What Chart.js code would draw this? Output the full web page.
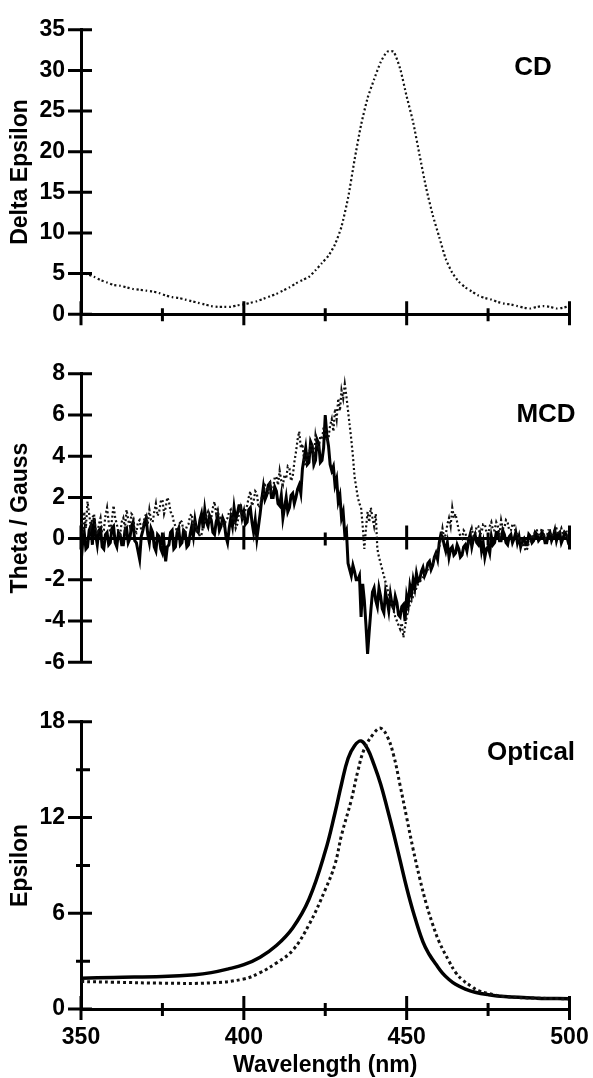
<!DOCTYPE html>
<html>
<head>
<meta charset="utf-8">
<script src="https://cdn.jsdelivr.net/npm/chart.js@4/dist/chart.umd.min.js"></script>
<style>
  body { margin: 0; background: #fff; }
  .panel { position: absolute; left: 0; }
</style>
</head>
<body>
<div class="panel" style="top:0px"><canvas id="cdChart" width="593" height="344"></canvas></div>
<div class="panel" style="top:344px"><canvas id="mcdChart" width="593" height="348"></canvas></div>
<div class="panel" style="top:692px"><canvas id="optChart" width="593" height="386"></canvas></div>
<script>
// Spectra of the complex: CD, MCD and optical absorption

// wavelength grids (nm)
const range = (a, b, s) => { const r = []; for (let v = a; v <= b; v += s) r.push(v); return r; };
const cdWavelengths = range(350, 500, 2);
const mcdWavelengths = range(350, 500, 0.5);

// CD, delta epsilon (dotted trace)
const cdValues = [
  5.2, 4.9, 4.6, 4.2, 3.9, 3.6, 3.5, 3.3, 3.1, 3.0,
  2.9, 2.8, 2.6, 2.3, 2.1, 2.0, 1.8, 1.6, 1.4, 1.2,
  1.0, 0.9, 0.9, 0.9, 1.1, 1.2, 1.4, 1.6, 1.9, 2.2,
  2.5, 2.9, 3.3, 3.8, 4.2, 4.6, 5.4, 6.3, 7.2, 8.6,
  10.8, 14.3, 19.0, 23.3, 26.6, 28.9, 31.0, 32.3, 32.3, 30.2,
  26.8, 23.6, 19.5, 15.5, 12.2, 9.5, 6.8, 5.1, 4.0, 3.3,
  2.8, 2.3, 2.0, 1.8, 1.5, 1.3, 1.2, 1.0, 0.8, 0.7,
  0.9, 1.0, 0.9, 0.7, 0.8, 1.0
];

// MCD, theta / gauss (solid trace), every 0.5 nm, one row = 5 nm
const mcdSolid = [
  -1.2, -0.2, 0.3, -0.5, -0.4, 0.4, 0.6, -0.3, 1.0, 0.2,
  -0.3, 0.4, 0.5, -0.4, -0.5, 0.2, 0.3, -0.3, -0.2, 0.5,
  0.6, -0.2, -0.4, 0.3, 0.2, -0.3, -0.3, 0.4, 0.5, -0.2,
  0.0, 0.6, 0.8, -0.1, -0.2, -0.6, -1.0, 0.1, 0.4, 0.8,
  1.0, 0.2, -0.2, 0.5, 0.3, -0.4, -0.6, 0.2, 0.1, -0.5,
  -0.7, -0.2, -1.1, -0.4, -0.3, 0.3, 0.4, -0.5, -0.4, 0.3,
  0.5, -0.3, -0.2, 0.4, 0.3, -0.4, -0.3, 0.2, 0.6, 0.1,
  0.9, 0.4, 0.3, 0.9, 1.2, 0.5, 1.4, 0.8, 0.6, 1.1,
  0.9, 0.3, 0.2, 0.8, 1.1, 0.4, 0.6, 1.0, 0.8, 0.1,
  -0.2, 0.5, 1.0, 0.6, 1.5, 0.9, 1.2, 1.6, 1.6, 1.0,
  1.3, 0.7, 0.8, 1.4, 1.5, 0.8, 0.3, 0.9, 0.0, 0.6,
  1.2, 1.9, 2.5, 1.9, 2.1, 2.6, 2.7, 2.0, 2.0, 2.5,
  2.3, 1.7, 1.6, 2.1, 1.0, 1.5, 2.0, 1.3, 1.5, 2.1,
  2.2, 1.7, 2.0, 2.4, 2.6, 2.2, 3.4, 3.9, 4.4, 3.6,
  3.7, 4.7, 4.5, 3.6, 3.8, 4.8, 4.6, 3.7, 3.8, 4.4,
  6.0, 5.0, 4.5, 3.6, 3.3, 3.5, 2.6, 2.9, 1.8, 2.1,
  1.0, 1.3, 0.2, 0.4, -1.2, -1.5, -1.8, -1.3, -1.6, -2.0,
  -2.0, -1.8, -3.8, -2.2, -3.0, -4.2, -5.6, -4.5, -3.5, -2.6,
  -2.4, -3.0, -3.3, -2.4, -2.8, -3.4, -3.6, -2.6, -3.0, -3.5,
  -2.7, -3.2, -3.4, -2.8, -3.1, -3.7, -3.8, -3.3, -3.2, -4.0,
  -2.8, -3.2, -2.3, -2.7, -2.0, -2.4, -1.7, -2.1, -2.0, -1.6,
  -1.4, -1.8, -1.6, -1.2, -1.1, -1.5, -1.3, -0.9, -0.7, -1.0,
  -0.2, 0.2, 0.1, -0.3, -0.6, -0.2, -0.9, -0.5, -0.4, -0.8,
  -0.7, -0.3, -0.5, -0.9, -0.8, -0.4, -0.3, -0.6, -0.1, 0.2,
  -0.4, 0.0, 0.2, -0.2, -0.3, 0.1, -0.6, -0.2, -0.9, -0.5,
  -0.4, -0.7, 0.1, -0.3, -0.2, 0.3, 0.3, -0.1, -0.1, 0.4,
  0.2, -0.2, -0.3, 0.1, 0.2, -0.2, 0.0, 0.3, -0.2, 0.1,
  -0.4, -0.1, 0.0, -0.3, -0.3, 0.2, 0.1, -0.2, -0.1, 0.3,
  0.2, -0.1, 0.0, 0.3, 0.2, -0.2, -0.2, 0.2, 0.3, -0.1,
  0.1, 0.4, -0.1, 0.2, 0.3, -0.2, 0.0, 0.3, 0.2, -0.1,
  0.1
];

// MCD, theta / gauss (dotted trace), every 0.5 nm, one row = 5 nm
const mcdDotted = [
  0.8, 0.2, 1.3, 0.5, 1.8, 1.2, 0.6, 1.0, 1.2, 0.4,
  0.2, 0.7, 1.0, 0.3, 0.4, 1.1, 1.5, 0.8, 0.3, 0.9,
  1.6, 1.0, 0.7, 0.3, 0.2, 0.8, 1.0, 0.5, 1.4, 0.9,
  0.6, 1.2, 1.1, 0.4, 0.3, 0.8, 0.9, 0.4, 0.5, 1.0,
  1.2, 0.7, 1.4, 0.9, 0.8, 1.3, 1.7, 1.1, 1.3, 1.8,
  1.9, 1.2, 1.5, 2.0, 1.8, 1.3, 1.2, 0.8, 0.6, 0.3,
  0.4, 0.9, 0.8, 0.3, 0.3, 0.6, 0.7, 1.1, 1.2, 0.6,
  0.9, 0.4, 0.5, 0.1, 0.2, 0.6, 0.8, 1.1, 1.3, 0.9,
  1.0, 1.5, 1.8, 1.2, 1.4, 0.9, 1.1, 0.6, 0.6, 0.9,
  1.0, 1.3, 1.4, 0.9, 1.1, 0.5, 0.7, 1.2, 1.5, 0.9,
  1.0, 1.4, 1.6, 2.0, 2.3, 1.6, 1.8, 2.3, 2.2, 1.5,
  1.6, 2.0, 2.1, 2.6, 2.5, 2.1, 2.8, 2.3, 2.4, 3.0,
  3.0, 2.6, 3.3, 2.8, 2.6, 3.1, 2.9, 3.5, 3.4, 2.8,
  3.0, 3.7, 4.2, 4.8, 5.2, 4.4, 4.6, 3.8, 3.5, 4.2,
  4.0, 4.6, 4.5, 3.9, 5.0, 4.5, 4.4, 5.0, 4.8, 5.4,
  5.3, 4.7, 4.9, 5.5, 5.8, 5.2, 6.3, 5.8, 6.8, 6.2,
  7.2, 6.8, 7.5, 6.9, 6.2, 5.5, 4.8, 4.0, 3.0, 2.5,
  2.0, 1.7, 1.5, 0.6, -0.5, 0.5, 1.3, 0.8, 1.5, 1.0,
  0.6, 1.2, -0.5, -0.9, -1.2, -1.5, -1.8, -2.1, -2.4, -2.7,
  -3.0, -3.2, -3.5, -3.8, -4.0, -4.2, -4.4, -4.1, -4.8, -4.3,
  -3.8, -3.4, -3.2, -3.0, -2.8, -2.6, -2.4, -2.2, -2.1, -2.0,
  -1.9, -1.7, -1.6, -1.5, -1.4, -1.3, -1.2, -1.0, -0.8, -0.6,
  -0.4, 0.0, 0.5, 0.0, 0.2, 0.7, 1.0, 0.6, 1.5, 1.0,
  1.2, 0.8, 0.4, 0.1, 0.0, 0.4, 0.3, -0.1, -0.2, 0.2,
  0.5, 0.1, 0.2, 0.6, 0.6, 0.2, 0.3, 0.7, 0.7, 0.3,
  0.2, 0.6, 0.8, 0.4, 0.4, 0.8, 0.6, 0.2, 0.9, 0.5,
  0.5, 0.9, 0.8, 0.4, 0.4, 0.7, 0.7, 0.3, 0.2, 0.0,
  0.0, -0.4, -0.3, -0.6, -0.5, -0.2, -0.2, 0.2, 0.1, 0.4,
  0.4, 0.1, 0.2, 0.5, 0.3, 0.0, 0.1, 0.4, 0.4, 0.1,
  0.2, 0.5, 0.5, 0.2, 0.3, 0.5, 0.2, 0.4, 0.4, 0.1,
  0.3
];

// Optical, epsilon
const optSolidWl = [350, 360, 375, 385, 390, 395, 400, 405, 410, 415, 420, 425, 428, 430, 432, 434, 436, 438, 440, 442, 444, 446, 448, 450, 452, 455, 457, 459, 461, 463, 465, 468, 471, 475, 480, 490, 500];
const optSolid = [1.92, 1.98, 2.04, 2.15, 2.28, 2.5, 2.78, 3.25, 3.98, 5.08, 6.88, 9.88, 12.3, 14.1, 15.7, 16.5, 16.8, 16.3, 15.3, 14.1, 12.6, 11.0, 9.3, 7.6, 6.1, 4.2, 3.4, 2.8, 2.25, 1.85, 1.55, 1.25, 1.05, 0.9, 0.78, 0.68, 0.64];
const optDottedWl = [350, 360, 375, 390, 400, 405, 410, 415, 420, 425, 428, 430, 433, 435, 437, 440, 442, 444, 446, 448, 450, 452, 454, 456, 458, 460, 463, 465, 467, 470, 472, 475, 480, 490, 500];
const optDotted = [1.72, 1.68, 1.62, 1.64, 1.88, 2.28, 2.88, 3.68, 5.28, 7.48, 9.08, 10.9, 13.1, 14.9, 16.3, 17.3, 17.6, 17.1, 15.9, 14.0, 12.0, 10.0, 8.2, 6.6, 5.3, 4.2, 3.0, 2.3, 1.85, 1.4, 1.15, 0.98, 0.78, 0.68, 0.64];

const FONT = 'Liberation Sans, Arial, Helvetica, sans-serif';
const toPoints = (xs, ys) => xs.map((x, i) => ({ x: x, y: ys[i] }));

// ticks that cross the axis line on both sides
const crossTicks = {
    id: 'crossTicks',
    afterDraw(chart) {
        const { ctx } = chart;
        const xs = chart.scales.x;
        const ys = chart.scales.y;
        const y0 = ys.getPixelForValue(0);
        const x0 = xs.getPixelForValue(350);
        ctx.save();
        ctx.strokeStyle = '#000';
        ctx.lineWidth = 3;
        ctx.beginPath();
        xs.ticks.forEach(t => {
            const px = xs.getPixelForValue(t.value);
            const major = t.value % 50 === 0;
            ctx.moveTo(px, y0 - (major ? 13 : 6));
            ctx.lineTo(px, y0 + (major ? 11 : 7));
        });
        ys.ticks.forEach(t => {
            const py = ys.getPixelForValue(t.value);
            const major = t.label !== '';
            ctx.moveTo(x0 - (major ? 13 : 5), py);
            ctx.lineTo(x0 + (major ? 11 : 9), py);
        });
        ctx.stroke();

        // panel name
        const lab = chart.options.plugins.panelLabel;
        if (lab) {
            ctx.fillStyle = '#000';
            ctx.font = 'bold 26px ' + FONT;
            ctx.textAlign = 'center';
            ctx.textBaseline = 'alphabetic';
            ctx.fillText(lab.text, lab.x, lab.y);
        }
        ctx.restore();
    }
};

function makeOptions(cfg) {
    return {
        responsive: false,
        animation: false,
        layout: { padding: cfg.padding },
        plugins: {
            legend: { display: false },
            tooltip: { enabled: false },
            panelLabel: cfg.label
        },
        scales: {
            x: {
                type: 'linear',
                position: cfg.xPosition,
                min: 350,
                max: 500,
                grid: { display: false, drawTicks: false },
                border: { display: true, color: '#000', width: 3 },
                ticks: {
                    display: cfg.xLabels,
                    stepSize: 25,
                    padding: 15,
                    color: '#000',
                    font: { family: FONT, size: 23, weight: 'bold' },
                    maxRotation: 0,
                    callback: v => (v % 50 === 0 ? String(v) : '')
                },
                title: {
                    display: cfg.xLabels,
                    text: 'Wavelength (nm)',
                    color: '#000',
                    padding: { top: 0, bottom: -1 },
                    font: { family: FONT, size: 23, weight: 'bold' }
                },
                afterFit: s => {
                    if (cfg.xHeight !== null) s.height = cfg.xHeight;
                    s.paddingLeft = 0;
                    s.paddingRight = 0;
                }
            },
            y: {
                min: cfg.yMin,
                max: cfg.yMax,
                grid: { display: false, drawTicks: false },
                border: { display: true, color: '#000', width: 3 },
                ticks: {
                    stepSize: cfg.yStep,
                    padding: 16,
                    color: '#000',
                    font: { family: FONT, size: 23, weight: 'bold' },
                    callback: cfg.yLabel
                },
                title: {
                    display: true,
                    text: cfg.yTitle,
                    color: '#000',
                    padding: { top: 7, bottom: 0 },
                    font: { family: FONT, size: 23, weight: 'bold' }
                },
                afterFit: s => { s.width = 81; }
            }
        }
    };
}

// CD panel
new Chart(document.getElementById('cdChart'), {
    type: 'line',
    data: {
        datasets: [{
            data: toPoints(cdWavelengths, cdValues),
            borderColor: '#111',
            borderWidth: 2.2,
            borderDash: [2, 2.5],
            pointRadius: 0,
            tension: 0.2
        }]
    },
    options: makeOptions({
        padding: { top: 21, right: 23.5, bottom: 0, left: 0 },
        xPosition: 'bottom', xLabels: false, xHeight: 21,
        yMin: 0, yMax: 35, yStep: 5, yTitle: 'Delta Epsilon',
        yLabel: v => String(v),
        label: { text: 'CD', x: 533, y: 75 }
    }),
    plugins: [crossTicks]
});

// MCD panel, x axis crosses at zero
new Chart(document.getElementById('mcdChart'), {
    type: 'line',
    data: {
        datasets: [{
            data: toPoints(mcdWavelengths, mcdDotted),
            borderColor: '#111',
            borderWidth: 2.2,
            borderDash: [2, 2.5],
            pointRadius: 0,
            tension: 0
        }, {
            data: toPoints(mcdWavelengths, mcdSolid),
            borderColor: '#000',
            borderWidth: 3,
            pointRadius: 0,
            tension: 0
        }]
    },
    options: makeOptions({
        padding: { top: 21.5, right: 23.5, bottom: 14, left: 0 },
        xPosition: { y: 0 }, xLabels: false, xHeight: null,
        yMin: -6, yMax: 8, yStep: 2, yTitle: 'Theta / Gauss',
        yLabel: v => String(v),
        label: { text: 'MCD', x: 546, y: 78 }
    }),
    plugins: [crossTicks]
});

// Optical panel
new Chart(document.getElementById('optChart'), {
    type: 'line',
    data: {
        datasets: [{
            data: toPoints(optDottedWl, optDotted),
            borderColor: '#111',
            borderWidth: 3,
            borderDash: [3, 3],
            pointRadius: 0,
            tension: 0.4
        }, {
            data: toPoints(optSolidWl, optSolid),
            borderColor: '#000',
            borderWidth: 3.5,
            pointRadius: 0,
            tension: 0.4
        }]
    },
    options: makeOptions({
        padding: { top: 17, right: 23.5, bottom: 0, left: 0 },
        xPosition: 'bottom', xLabels: true, xHeight: 69,
        yMin: 0, yMax: 18, yStep: 3, yTitle: 'Epsilon',
        yLabel: v => (v % 6 === 0 ? String(v) : ''),
        label: { text: 'Optical', x: 531, y: 68 }
    }),
    plugins: [crossTicks]
});
</script>
</body>
</html>
